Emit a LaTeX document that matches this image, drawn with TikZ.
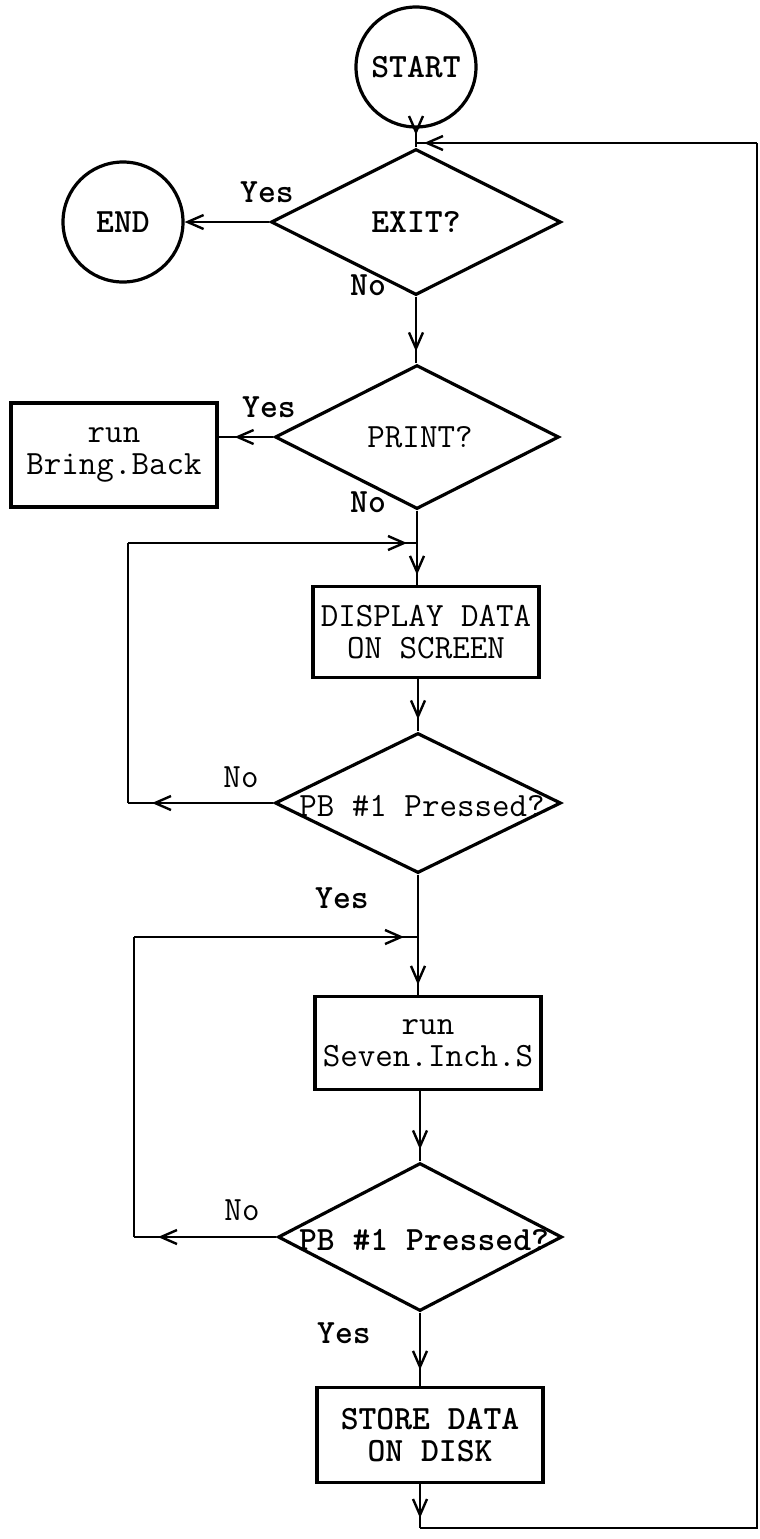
\documentclass[tikz,border=0pt]{standalone}
\usetikzlibrary{shapes.geometric,arrows.meta,decorations.markings}
\begin{document}
\begin{tikzpicture}[x=0.5pt,y=-0.5pt,
  txt/.style={font=\ttfamily\fontsize{17}{16}\selectfont, inner sep=0pt, align=center},
  btxt/.style={font=\ttfamily\bfseries\fontsize{17}{16}\selectfont, inner sep=0pt, align=center},
  term/.style={circle, draw, line width=1.6pt, minimum size=60pt, inner sep=0pt,
    font=\ttfamily\bfseries\fontsize{17}{16}\selectfont},
  dec/.style={diamond, draw, line width=1.6pt, inner sep=0pt},
  proc/.style={rectangle, draw, line width=1.6pt, inner sep=0pt, align=center,
    font=\ttfamily\fontsize{17}{16}\selectfont},
  conn/.style={line width=1.3pt},
  marr/.style={postaction={decorate,decoration={markings,
    mark=at position #1 with {\arrow{Straight Barb[length=8pt,width=7pt,line width=1.2pt]}}}}},
  endarr/.style={-{Straight Barb[length=8pt,width=7pt,line width=1.2pt]}}
]
\useasboundingbox (0,0) rectangle (760,1539);

% nodes
\node[term] (start) at (416,67) {START};
\node[term] (end) at (123,222) {END};
\node[dec, minimum width=145pt, minimum height=73pt] (exit) at (416,222) {};
\node[btxt] (exitt) at (416,222) {EXIT?};
\node[dec, minimum width=142pt, minimum height=72pt] (print) at (417,437) {};
\node[txt] (printt) at (420,437) {PRINT?};
\node[proc, minimum width=103pt, minimum height=52pt] (bb) at (114,455) {run\\Bring.Back};
\node[proc, minimum width=113pt, minimum height=45.5pt] (disp) at (426,632) {DISPLAY DATA\\ON SCREEN};
\node[dec, minimum width=143pt, minimum height=70pt] (pb1) at (418,803) {};
\node[txt] (pb1t) at (422,806) {PB \#1 Pressed?};
\node[proc, minimum width=113pt, minimum height=46.5pt] (seven) at (428,1043) {run\\Seven.Inch.S};
\node[dec, minimum width=142pt, minimum height=74pt] (pb2) at (420,1237) {};
\node[btxt] (pb2t) at (424,1240) {PB \#1 Pressed?};
\node[proc, minimum width=113pt, minimum height=47.5pt, font=\ttfamily\bfseries\fontsize{17}{16}\selectfont] (store) at (430,1435) {STORE DATA\\ON DISK};

% labels
\node[btxt] (l1) at (267,192) {Yes};
\node[btxt] (l2) at (368,285) {No};
\node[btxt] (l3) at (269,407) {Yes};
\node[btxt] (l4) at (368,502) {No};
\node[txt] (l5) at (241,777) {No};
\node[btxt] (l6) at (342,898) {Yes};
\node[txt] (l7) at (242,1210) {No};
\node[btxt] (l8) at (344,1333) {Yes};

% coordinates
\coordinate (j0) at (416,143);
\coordinate (j1) at (417,543);
\coordinate (c1a) at (128,803);
\coordinate (c1b) at (128,543);
\coordinate (j2) at (418,937);
\coordinate (c2a) at (134,1237);
\coordinate (c2b) at (134,937);
\coordinate (b1) at (420,1528);
\coordinate (b2) at (757,1528);
\coordinate (b3) at (757,143);

% connectors
\draw[conn, marr=-4pt] (start.south) -- (j0);
\draw[conn] (j0) -- (exit.north);
\draw[conn, endarr] (exit.west) -- (end.east);
\draw[conn, marr=-6pt] (exit.south) -- (exit.south |- print.north);
\draw[conn, marr=-8pt] (print.west) -- (print.west -| bb.east);
\draw[conn] (print.south) -- (j1);
\draw[conn, marr=-5pt] (j1) -- (j1 |- disp.north);
\draw[conn, marr=-6pt] (pb1.north |- disp.south) -- (pb1.north);
\draw[conn, marr=-12pt] (pb1.west) -- (c1a);
\draw[conn] (c1a) -- (c1b);
\draw[conn, marr=-5pt] (c1b) -- (j1);
\draw[conn] (pb1.south) -- (j2);
\draw[conn, marr=-5pt] (j2) -- (j2 |- seven.north);
\draw[conn, marr=-6pt] (pb2.north |- seven.south) -- (pb2.north);
\draw[conn, marr=-12pt] (pb2.west) -- (c2a);
\draw[conn] (c2a) -- (c2b);
\draw[conn, marr=-7pt] (c2b) -- (j2);
\draw[conn, marr=-8pt] (pb2.south) -- (pb2.south |- store.north);
\draw[conn, marr=-5pt] (b1 |- store.south) -- (b1);
\draw[conn] (b1) -- (b2) -- (b3);
\draw[conn, marr=-4pt] (b3) -- (j0);
\end{tikzpicture}
\end{document}
